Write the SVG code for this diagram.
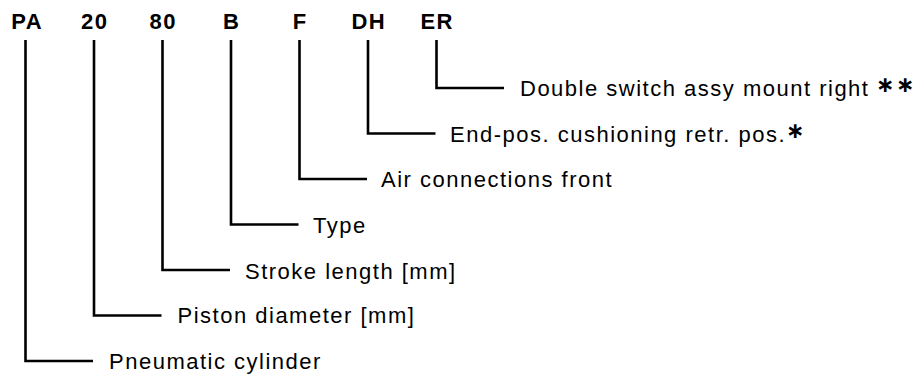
<svg xmlns="http://www.w3.org/2000/svg" width="918" height="376" viewBox="0 0 918 376">
<style>
.hd{font-family:"Liberation Sans",Arial,sans-serif;font-size:22px;font-weight:bold;fill:#000;text-anchor:middle;letter-spacing:1.4px}
.lb{font-family:"Liberation Sans",Arial,sans-serif;font-size:22px;fill:#000;letter-spacing:1.5px}
.ast{font-family:"DejaVu Sans",sans-serif;font-size:22px;font-weight:bold;fill:#000;letter-spacing:0}
.ln{fill:none;stroke:#000;stroke-width:2.6}
</style>
<rect width="918" height="376" fill="#fff"/>
<g id="connectors">
<polyline class="ln" points="25.5,40 25.5,361 93,361"/>
<polyline class="ln" points="94,40 94,315.5 161.5,315.5"/>
<polyline class="ln" points="162.5,40 162.5,270 230,270"/>
<polyline class="ln" points="231,40 231,224.5 298.5,224.5"/>
<polyline class="ln" points="299.5,40 299.5,179 367,179"/>
<polyline class="ln" points="368,40 368,133.5 435.5,133.5"/>
<polyline class="ln" points="436.5,40 436.5,88 504,88"/>
</g>
<g id="n-pa"><text class="hd" x="27.2" y="29">PA</text><text class="lb" x="109" y="368.5">Pneumatic cylinder</text></g>
<g id="n-20"><text class="hd" x="94.7" y="29">20</text><text class="lb" x="177.5" y="323">Piston diameter [mm]</text></g>
<g id="n-80"><text class="hd" x="163.2" y="29">80</text><text class="lb" x="245" y="278.5">Stroke length [mm]</text></g>
<g id="n-b"><text class="hd" x="231.7" y="29">B</text><text class="lb" x="313" y="232.5">Type</text></g>
<g id="n-f"><text class="hd" x="300.2" y="29">F</text><text class="lb" x="381" y="187">Air connections front</text></g>
<g id="n-dh"><text class="hd" x="368.7" y="29">DH</text><text class="lb" x="450" y="141.5">End-pos. cushioning retr. pos.<tspan class="ast" dy="-4">∗</tspan></text></g>
<g id="n-er"><text class="hd" x="437.2" y="29">ER</text><text class="lb" x="520" y="96">Double switch assy mount right<tspan class="ast" x="876" dy="-4">∗</tspan><tspan class="ast" x="896">∗</tspan></text></g>
</svg>
